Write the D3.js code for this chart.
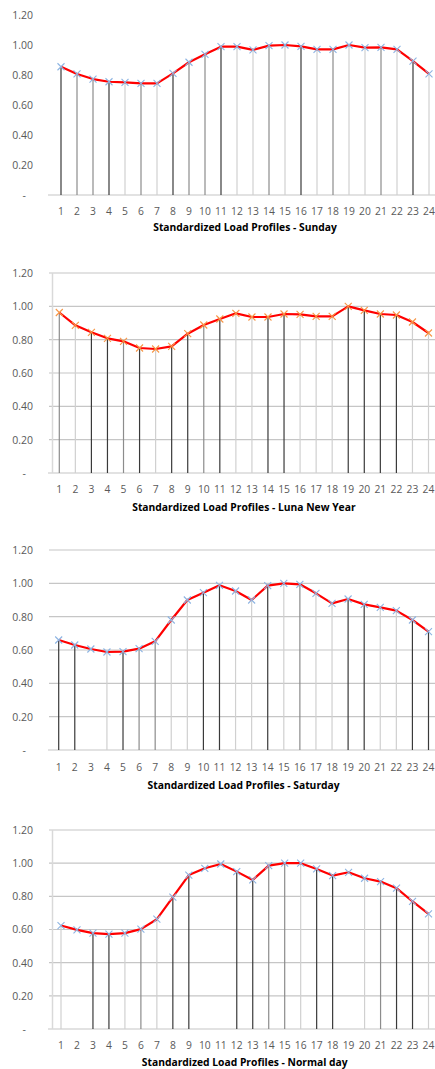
<!DOCTYPE html>
<html>
<head>
<meta charset="utf-8">
<script src="https://cdn.jsdelivr.net/npm/d3@7"></script>
<style>
  body { margin: 0; background: #fff; }
  svg { display: block; font-family: "Open Sans", sans-serif; }
</style>
</head>
<body>
<div id="chart"></div>
<script>
// Hours of the day
const HOURS = d3.range(1, 25);
const Y_TICKS = [0, 0.2, 0.4, 0.6, 0.8, 1.0, 1.2];

// Standardized load profiles
const SUNDAY = [0.855, 0.807, 0.773, 0.755, 0.751, 0.744, 0.744, 0.811, 0.885, 0.938, 0.989, 0.989,
                0.967, 0.996, 1.000, 0.991, 0.971, 0.971, 1.000, 0.982, 0.984, 0.971, 0.893, 0.807];
const LUNAR_NEW_YEAR = [0.963, 0.886, 0.844, 0.808, 0.790, 0.750, 0.744, 0.760, 0.836, 0.888, 0.924, 0.958,
                        0.936, 0.936, 0.954, 0.952, 0.940, 0.940, 1.000, 0.976, 0.954, 0.948, 0.906, 0.840];
const SATURDAY = [0.660, 0.630, 0.606, 0.588, 0.590, 0.608, 0.652, 0.780, 0.900, 0.944, 0.988, 0.954,
                  0.900, 0.986, 1.000, 0.994, 0.940, 0.880, 0.906, 0.874, 0.856, 0.836, 0.780, 0.710];
const NORMAL_DAY = [0.624, 0.598, 0.578, 0.572, 0.578, 0.602, 0.662, 0.795, 0.928, 0.969, 0.995, 0.949,
                    0.899, 0.985, 1.000, 1.000, 0.965, 0.925, 0.945, 0.909, 0.889, 0.849, 0.769, 0.694];

const TITLES = [
    "Standardized Load Profiles - Sunday",
    "Standardized Load Profiles - Luna New Year",
    "Standardized Load Profiles - Saturday",
    "Standardized Load Profiles - Normal day"
];

// drop line tones (d dark, m mid, l light, n none) - just a look thing
const SHADE = { d: "#3a3a3a", m: "#8c8c8c", l: "#d0d0d0", n: null };
const DROP_TONES = [
    "dmmdlmldmmdllmldlmllmldl",
    "mlddmdlddmdllddlllddddll",
    "ddnldmmllddlldlmllddlldd",
    "lnddlmlddnnddmmlddnlmddl"
];

const PANELS = [
    { data: SUNDAY,         top: 15,  bottom: 195,  x0: 61,   x1: 429, grid: false, axis: false, marker: "#8db4e2", tickY: 215, titleY: 231 },
    { data: LUNAR_NEW_YEAR, top: 273, bottom: 473,  x0: 59.3, x1: 428.5, grid: true,  axis: true,  marker: "#f79646", tickY: 493, titleY: 511 },
    { data: SATURDAY,       top: 550, bottom: 750,  x0: 58.7, x1: 428.5, grid: true,  axis: false, marker: "#8db4e2", tickY: 771, titleY: 789 },
    { data: NORMAL_DAY,     top: 830, bottom: 1029, x0: 61,   x1: 428.5, grid: true, axis: true, marker: "#8db4e2", tickY: 1049, titleY: 1066 }
];

const W = 435, H = 1069;

const svg = d3.select("#chart").append("svg")
    .attr("width", W)
    .attr("height", H);

PANELS.forEach((p, idx) => {
    const g = svg.append("g");

    const x = d3.scalePoint()
        .domain(HOURS)
        .range([p.x0, p.x1]);

    const y = d3.scaleLinear()
        .domain([0, 1.2])
        .range([p.bottom, p.top]);

    // gridlines
    if (p.grid) {
        g.selectAll(".grid")
            .data(Y_TICKS.slice(1))
            .join("line")
            .attr("x1", 49).attr("x2", W)
            .attr("y1", d => y(d)).attr("y2", d => y(d))
            .attr("stroke", "#c6c6c6")
            .attr("stroke-width", 1.2);
    }

    // baseline
    g.append("line")
        .attr("x1", 48).attr("x2", W)
        .attr("y1", y(0)).attr("y2", y(0))
        .attr("stroke", "#d9d9d9")
        .attr("stroke-width", 1.5);

    if (p.axis) {
        g.append("line")
            .attr("x1", 52.5).attr("x2", 52.5)
            .attr("y1", y(1.2)).attr("y2", y(0))
            .attr("stroke", "#d9d9d9")
            .attr("stroke-width", 1.5);
    }

    // y axis labels
    const yAxis = g.append("g")
        .attr("transform", "translate(33,0)")
        .call(d3.axisLeft(y).tickValues(Y_TICKS).tickSize(0).tickPadding(0)
            .tickFormat(d => d === 0 ? "-" : d3.format(".2f")(d)));
    yAxis.select(".domain").remove();
    yAxis.selectAll("text")
        .attr("fill", "#595959")
        .style("font-size", "10.5px")
        .style("font-family", "Open Sans, sans-serif");
    yAxis.selectAll(".tick").filter(d => d === 0).select("text").attr("dx", -7);

    // x labels
    g.selectAll(".xlab")
        .data(HOURS)
        .join("text")
        .attr("x", d => x(d))
        .attr("y", p.tickY)
        .attr("text-anchor", "middle")
        .attr("fill", "#595959")
        .style("font-size", "10.3px")
        .text(d => d);

    // drop lines
    const tones = DROP_TONES[idx];
    g.selectAll(".drop")
        .data(p.data.map((v, i) => ({ h: HOURS[i], v, c: SHADE[tones[i]] })).filter(d => d.c))
        .join("line")
        .attr("x1", d => x(d.h)).attr("x2", d => x(d.h))
        .attr("y1", d => y(d.v)).attr("y2", y(0))
        .attr("stroke", d => d.c)
        .attr("stroke-width", 1.2);

    // red line
    const line = d3.line()
        .x((d, i) => x(HOURS[i]))
        .y(d => y(d));

    g.append("path")
        .datum(p.data)
        .attr("d", line)
        .attr("fill", "none")
        .attr("stroke", "#ff0000")
        .attr("stroke-width", 2.2)
        .attr("stroke-linejoin", "round");

    // x markers
    const s = 3.5;
    g.selectAll(".mk")
        .data(p.data)
        .join("path")
        .attr("d", (d, i) => {
            const cx = x(HOURS[i]), cy = y(d);
            return `M${cx - s},${cy - s}L${cx + s},${cy + s}M${cx - s},${cy + s}L${cx + s},${cy - s}`;
        })
        .attr("stroke", p.marker)
        .attr("stroke-width", 1.1)
        .attr("fill", "none");

    // title
    g.append("text")
        .attr("x", (p.x0 + p.x1) / 2)
        .attr("y", p.titleY)
        .attr("text-anchor", "middle")
        .attr("fill", "#000")
        .style("font-size", "10.3px")
        .style("font-weight", "bold")
        .text(TITLES[idx]);
});
</script>
</body>
</html>
